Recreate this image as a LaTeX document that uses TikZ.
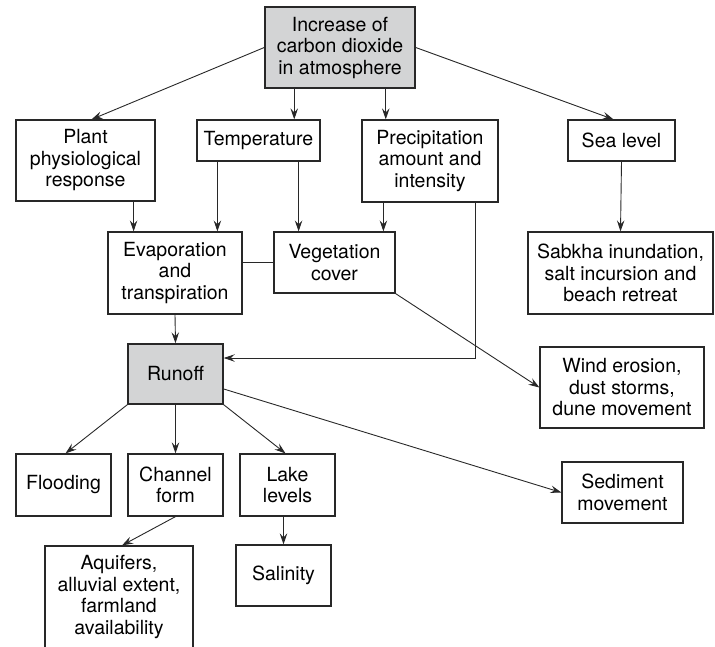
\documentclass[tikz,border=0pt]{standalone}
\usepackage{fontspec}
\setmainfont{TeX Gyre Heros}
\usepackage{xcolor}
\usetikzlibrary{arrows.meta, calc}
\definecolor{boxgray}{RGB}{211,212,213}
\definecolor{linegray}{RGB}{40,40,40}
\tikzset{
  box/.style={draw=linegray, line width=1.2pt, align=center, inner sep=0pt,
    font=\fontsize{19.5}{21.5}\selectfont},
  keybox/.style={box, fill=boxgray, line width=1.5pt},
  arr/.style={draw=linegray, line width=0.9pt, -{Stealth[length=11pt,width=7.5pt,inset=4pt]}},
  link/.style={draw=linegray, line width=0.9pt}
}

\begin{document}
\begin{tikzpicture}[x=1pt, y=-1pt]
\useasboundingbox (0,0) rectangle (715,646);
% Top box
  \node[keybox, minimum width=150pt, minimum height=81pt] (co2) at (340,47.5) {Increase of\\carbon dioxide\\in atmosphere};
  % First row
  \node[box, minimum width=139pt, minimum height=81pt] (plant) at (85.5,160.5) {Plant\\physiological\\response};
  \node[box, minimum width=123pt, minimum height=41pt] (temp) at (258.5,140.5) {Temperature};
  \node[box, minimum width=136pt, minimum height=82pt] (precip) at (430,161) {Precipitation\\amount and\\intensity};
  \node[box, minimum width=107pt, minimum height=41pt] (sea) at (621.5,140.5) {Sea level};
 % Second row
  \node[box, minimum width=134pt, minimum height=82pt] (evap) at (175,273) {Evaporation\\and\\transpiration};
  \node[box, minimum width=121pt, minimum height=61pt] (veg) at (334.5,262.5) {Vegetation\\cover};
  \node[box, minimum width=185pt, minimum height=82pt] (sabkha) at (620.5,273) {Sabkha inundation,\\salt incursion and\\beach retreat};
  \node[box, minimum width=164pt, minimum height=81pt] (wind) at (622,387.5) {Wind erosion,\\dust storms,\\dune movement};
  % Runoff and what follows
  \node[keybox, minimum width=95pt, minimum height=60pt] (runoff) at (175.5,374) {Runoff};
  \node[box, minimum width=95pt, minimum height=62pt] (flood) at (63.5,485) {Flooding};
  \node[box, minimum width=95pt, minimum height=62pt] (channel) at (175.5,485) {Channel\\form};
  \node[box, minimum width=95pt, minimum height=62pt] (lake) at (287.5,485) {Lake\\levels};
  \node[box, minimum width=121pt, minimum height=61pt] (sediment) at (622.5,492.5) {Sediment\\movement};
  \node[box, minimum width=148pt, minimum height=102pt] (aquif) at (119,597) {Aquifers,\\alluvial extent,\\farmland\\availability};
  \node[box, minimum width=95pt, minimum height=61pt] (salinity) at (283.5,575.5) {Salinity};

% Arrows from the top box
  \draw[arr] (co2.west) -- ([xshift=6pt]plant.north);
  \draw[arr] ([xshift=30pt]co2.south west) -- ([xshift=30pt]co2.south west |- temp.north);
  \draw[arr] ([xshift=-30pt]co2.south east) -- ([xshift=-30pt]co2.south east |- precip.north);
  \draw[arr] (co2.east) -- ([xshift=-8pt]sea.north);
 % Arrows into evaporation and vegetation
  \draw[arr] ([xshift=-22pt]plant.south east) -- ([xshift=-22pt]plant.south east |- evap.north);
  \draw[arr] ([xshift=21pt]temp.south west) -- ([xshift=21pt]temp.south west |- evap.north);
  \draw[arr] ([xshift=-22pt]temp.south east) -- ([xshift=-22pt]temp.south east |- veg.north);
  \draw[arr] ([xshift=22pt]precip.south west) -- ([xshift=22pt]precip.south west |- veg.north);
  \draw[arr] ([xshift=-23pt]precip.south east) |- ([yshift=16pt]runoff.east);
  \draw[arr] (sea.south) -- (sabkha.north);
  \draw[link] (veg.west -| evap.east) -- (veg.west);
  \draw[arr] (evap.south) -- (runoff.north);
  \draw[arr] (veg.south east) -- (wind.west);
% Arrows out of runoff
  \draw[arr] ([yshift=-15pt]runoff.east) -- (sediment.west);
  \draw[arr] (runoff.south west) -- ([xshift=2pt]flood.north);
  \draw[arr] (runoff.south) -- (channel.north);
  \draw[arr] (runoff.south east) -- ([xshift=-2pt]lake.north);
  \draw[arr] (channel.south) -- ([xshift=3pt]aquif.north);
  \draw[arr] (salinity.north |- lake.south) -- (salinity.north);
\end{tikzpicture}
\end{document}
